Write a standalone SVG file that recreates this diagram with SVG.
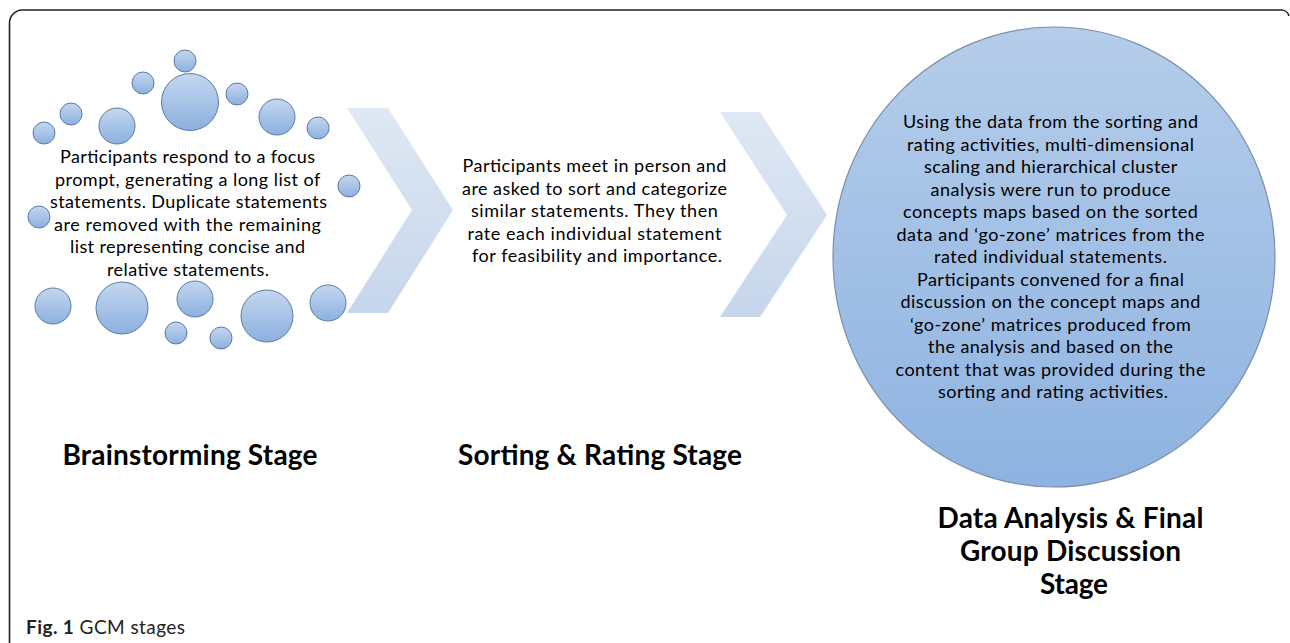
<svg xmlns="http://www.w3.org/2000/svg" width="1290" height="643" viewBox="0 0 1290 643">
<defs>
<linearGradient id="gBub" x1="0" y1="0" x2="0" y2="1">
<stop offset="0" stop-color="#c3d7ef"/>
<stop offset="1" stop-color="#8cb0df"/>
</linearGradient>
<linearGradient id="gBig" x1="0" y1="0" x2="0" y2="1">
<stop offset="0" stop-color="#b5cdea"/>
<stop offset="1" stop-color="#8eb3e1"/>
</linearGradient>
<linearGradient id="gChev" x1="0" y1="0" x2="0" y2="1">
<stop offset="0" stop-color="#dfe8f4"/>
<stop offset="1" stop-color="#c6d6eb"/>
</linearGradient>
</defs>
<style>
.bub{fill:url(#gBub);stroke:#5d7ba4;stroke-width:1}
.chev{fill:url(#gChev);stroke:none}
.body{font-family:Lato,"Liberation Sans",sans-serif;font-size:18px;fill:#000;text-anchor:middle}
.head{font-family:Lato,"Liberation Sans",sans-serif;font-size:28px;font-weight:bold;fill:#000;text-anchor:middle}
.cap{font-family:Lato,"Liberation Sans",sans-serif;font-size:19px;fill:#222}
</style>
<rect width="1290" height="643" fill="#fff"/>
<path d="M9.5,645 V23 A13,13 0 0 1 22,10 H1281 A8,8 0 0 1 1289,16" fill="none" stroke="#222" stroke-width="1.6"/>

<g id="connectors">
<polygon class="chev" points="347,108 388,108 453,210 388,313 347,313 412,210"/>
<polygon class="chev" points="720,112 760,112 827,215 760,317 720,317 787,215"/>
</g>

<g id="stage1-brainstorming">
<circle class="bub" cx="185" cy="61" r="11"/>
<circle class="bub" cx="143" cy="83" r="11"/>
<circle class="bub" cx="190" cy="102" r="28.5"/>
<circle class="bub" cx="237" cy="94" r="11"/>
<circle class="bub" cx="117" cy="126" r="18"/>
<circle class="bub" cx="71" cy="114" r="11"/>
<circle class="bub" cx="44" cy="133" r="11"/>
<circle class="bub" cx="277" cy="117" r="18"/>
<circle class="bub" cx="318" cy="128" r="11"/>
<circle class="bub" cx="349" cy="186" r="11"/>
<circle class="bub" cx="39" cy="217" r="11"/>
<circle class="bub" cx="53" cy="306" r="18"/>
<circle class="bub" cx="122" cy="308" r="26"/>
<circle class="bub" cx="195" cy="299" r="18"/>
<circle class="bub" cx="267" cy="316" r="26"/>
<circle class="bub" cx="328" cy="303" r="18"/>
<circle class="bub" cx="176" cy="333" r="11"/>
<circle class="bub" cx="221" cy="338" r="11"/>
<text class="body">
<tspan x="190" y="163" textLength="255">Participants respond to a focus</tspan>
<tspan x="190" y="185.5" textLength="265">prompt, generating a long list of</tspan>
<tspan x="191" y="208" textLength="277">statements. Duplicate statements</tspan>
<tspan x="190" y="230.5" textLength="267">are removed with the remaining</tspan>
<tspan x="190" y="253" textLength="235">list representing concise and</tspan>
<tspan x="188" y="275.5" textLength="162">relative statements.</tspan>
</text>
<text class="head" x="190" y="465" textLength="255">Brainstorming Stage</text>
</g>

<g id="stage2-sorting">
<text class="body">
<tspan x="597" y="172" textLength="264">Participants meet in person and</tspan>
<tspan x="597" y="194.5" textLength="265">are asked to sort and categorize</tspan>
<tspan x="597" y="217" textLength="247">similar statements. They then</tspan>
<tspan x="597" y="239.5" textLength="254">rate each individual statement</tspan>
<tspan x="597" y="262" textLength="250">for feasibility and importance.</tspan>
</text>
<text class="head" x="600" y="465" textLength="284">Sorting &amp; Rating Stage</text>
</g>

<g id="stage3-analysis">
<ellipse cx="1054" cy="257" rx="221" ry="230" fill="url(#gBig)" stroke="#7d8ea8" stroke-width="1.2"/>
<text class="body">
<tspan x="1053" y="128" textLength="295">Using the data from the sorting and</tspan>
<tspan x="1053" y="150.5" textLength="287">rating activities, multi-dimensional</tspan>
<tspan x="1053" y="173" textLength="253">scaling and hierarchical cluster</tspan>
<tspan x="1053" y="195.5" textLength="240">analysis were run to produce</tspan>
<tspan x="1053" y="218" textLength="295">concepts maps based on the sorted</tspan>
<tspan x="1053" y="240.5" textLength="308">data and ‘go-zone’ matrices from the</tspan>
<tspan x="1053" y="263" textLength="233">rated individual statements.</tspan>
<tspan x="1053" y="285.5" textLength="267">Participants convened for a final</tspan>
<tspan x="1053" y="308" textLength="300">discussion on the concept maps and</tspan>
<tspan x="1053" y="330.5" textLength="281">‘go-zone’ matrices produced from</tspan>
<tspan x="1053" y="353" textLength="245">the analysis and based on the</tspan>
<tspan x="1053" y="375.5" textLength="310">content that was provided during the</tspan>
<tspan x="1053" y="398" textLength="230">sorting and rating activities.</tspan>
</text>
<text class="head">
<tspan x="1074" y="528" textLength="266">Data Analysis &amp; Final</tspan>
<tspan x="1074" y="561" textLength="221">Group Discussion</tspan>
<tspan x="1074" y="594" textLength="68">Stage</tspan>
</text>
</g>

<g id="caption">
<text class="cap" x="26" y="634" textLength="159"><tspan font-weight="bold">Fig. 1</tspan> GCM stages</text>
</g>
</svg>
